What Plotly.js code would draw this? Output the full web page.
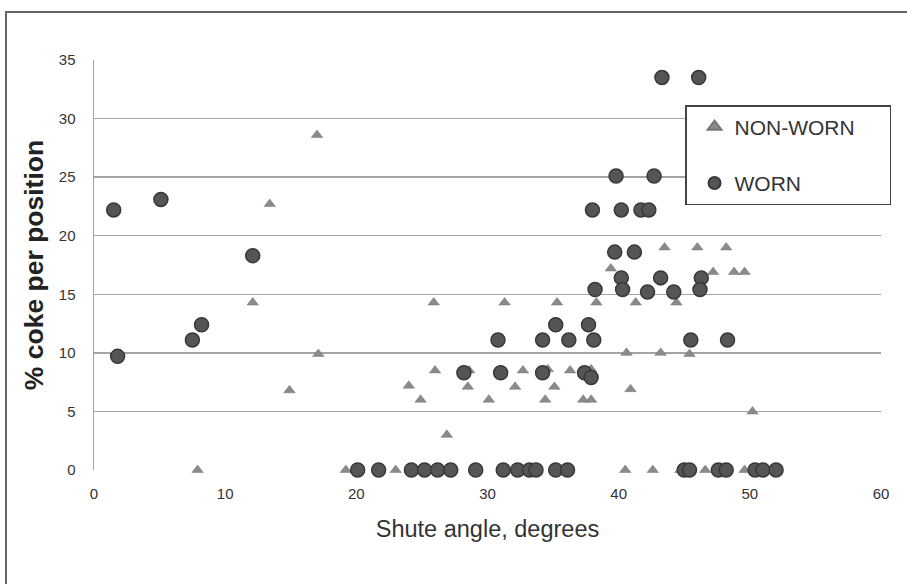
<!DOCTYPE html>
<html>
<head>
<meta charset="utf-8">
<script src="https://cdn.plot.ly/plotly-3.0.1.min.js"></script>
<style>
  html, body { margin:0; padding:0; background:#fff; }
  #wrap { position:relative; width:907px; height:584px; overflow:hidden; }
  #frame { position:absolute; left:5px; top:11px; width:1000px; height:700px; border-left:2px solid #666; border-top:2px solid #666; pointer-events:none; z-index:5; }
  #chart { position:absolute; left:0; top:0; width:907px; height:584px; }
</style>
</head>
<body>
<div id="wrap">
  <div id="chart"></div>
  <div id="frame"></div>
</div>
<script>
// NON-WORN (triangles)
const nonWornX = [17.0, 13.4, 12.1, 17.1, 14.9,
  43.5, 46.0, 48.2, 39.4, 47.2, 48.8, 49.6,
  25.9, 31.3, 35.3, 38.3, 41.3, 44.4,
  40.6, 43.2, 45.4,
  26.0, 28.6, 32.7, 34.6, 36.3, 37.9,
  24.0, 28.5, 32.1, 35.1, 40.9,
  24.9, 30.1, 34.4, 37.3, 37.9,
  26.9, 50.2,
  7.9, 19.2, 23.0, 40.5, 42.6, 44.7, 46.6, 49.6];
const nonWornY = [28.6, 22.7, 14.3, 9.9, 6.8,
  19.0, 19.0, 19.0, 17.2, 16.9, 16.9, 16.9,
  14.3, 14.3, 14.3, 14.3, 14.3, 14.3,
  10.0, 10.0, 9.9,
  8.5, 8.5, 8.5, 8.6, 8.5, 8.6,
  7.2, 7.1, 7.1, 7.1, 6.9,
  6.0, 6.0, 6.0, 6.0, 6.0,
  3.0, 5.0,
  0, 0, 0, 0, 0, 0, 0, 0];

// WORN (circles)
const wornX = [1.5, 1.8, 5.1, 7.5, 8.2, 12.1,
  43.3, 46.1,
  39.8, 42.7,
  38.0, 40.2, 41.7, 42.3,
  39.7, 41.2,
  40.2, 43.2, 46.3,
  38.2, 40.3, 42.2, 44.2, 46.2,
  35.2, 37.7,
  30.8, 34.2, 36.2, 38.1, 45.5, 48.3,
  28.2, 31.0, 34.2, 37.4, 37.9,
  20.1, 21.7, 24.2, 25.2, 26.2, 27.2, 29.1, 31.2, 32.3, 33.2, 33.7, 35.2, 36.1,
  45.0, 45.4, 47.6, 48.2, 50.4, 51.0, 52.0];
const wornY = [22.2, 9.7, 23.1, 11.1, 12.4, 18.3,
  33.5, 33.5,
  25.1, 25.1,
  22.2, 22.2, 22.2, 22.2,
  18.6, 18.6,
  16.4, 16.4, 16.4,
  15.4, 15.4, 15.2, 15.2, 15.4,
  12.4, 12.4,
  11.1, 11.1, 11.1, 11.1, 11.1, 11.1,
  8.3, 8.3, 8.3, 8.3, 7.9,
  0, 0, 0, 0, 0, 0, 0, 0, 0, 0, 0, 0, 0,
  0, 0, 0, 0, 0, 0, 0];

const xTicks = [0, 10, 20, 30, 40, 50, 60];
const yTicks = [0, 5, 10, 15, 20, 25, 30, 35];
const seriesNames = ['NON-WORN', 'WORN'];

const pad = '\u00a0\u00a0\u00a0\u00a0\u00a0';
const traces = [
  {
    x: nonWornX, y: nonWornY, name: seriesNames[0] + pad, type: 'scatter', mode: 'markers',
    legendgroup: 'a', cliponaxis: false,
    marker: { symbol: 'triangle-up', size: 10, color: '#8a8a8a', line: { color: '#777', width: 0.5 } }
  },
  {
    x: wornX, y: wornY, name: seriesNames[1], type: 'scatter', mode: 'markers',
    legendgroup: 'b', cliponaxis: false,
    marker: { symbol: 'circle', size: 14, color: '#555', line: { color: '#383838', width: 1.5 } }
  }
];

const layout = {
  width: 907, height: 584,
  margin: { l: 94, r: 26, t: 60, b: 114 },
  paper_bgcolor: '#ffffff', plot_bgcolor: '#ffffff',
  font: { family: 'Liberation Sans, Arial, sans-serif', color: '#333', size: 15 },
  showlegend: true,
  legend: {
    x: 0.751, y: 0.89, xanchor: 'left', yanchor: 'top',
    bordercolor: '#444', borderwidth: 1.5, bgcolor: '#fff',
    font: { size: 21, color: '#333' },
    tracegroupgap: 26, itemsizing: 'constant', indentation: 8
  },
  xaxis: {
    range: [0, 60], tickvals: xTicks, ticktext: xTicks.map(String),
    showgrid: false, zeroline: false, showline: false,
    ticks: '', ticklabelstandoff: 13,
    tickfont: { size: 15, color: '#333' },
    title: { text: 'Shute angle, degrees', font: { size: 23.5, color: '#333' }, standoff: 19 }
  },
  yaxis: {
    range: [0, 35], tickvals: yTicks, ticktext: yTicks.map(String),
    showgrid: true, gridcolor: '#a3a3a3', gridwidth: 1.5,
    zeroline: false, showline: true, linecolor: '#a3a3a3', linewidth: 1.5,
    ticks: '', ticklabelstandoff: 14,
    tickfont: { size: 15, color: '#333' },
    title: { text: '% coke per position', font: { size: 26.5, color: '#222', weight: 'bold' }, standoff: 7 }
  }
};

Plotly.newPlot('chart', traces, layout, { displayModeBar: false, staticPlot: true });
</script>
</body>
</html>
